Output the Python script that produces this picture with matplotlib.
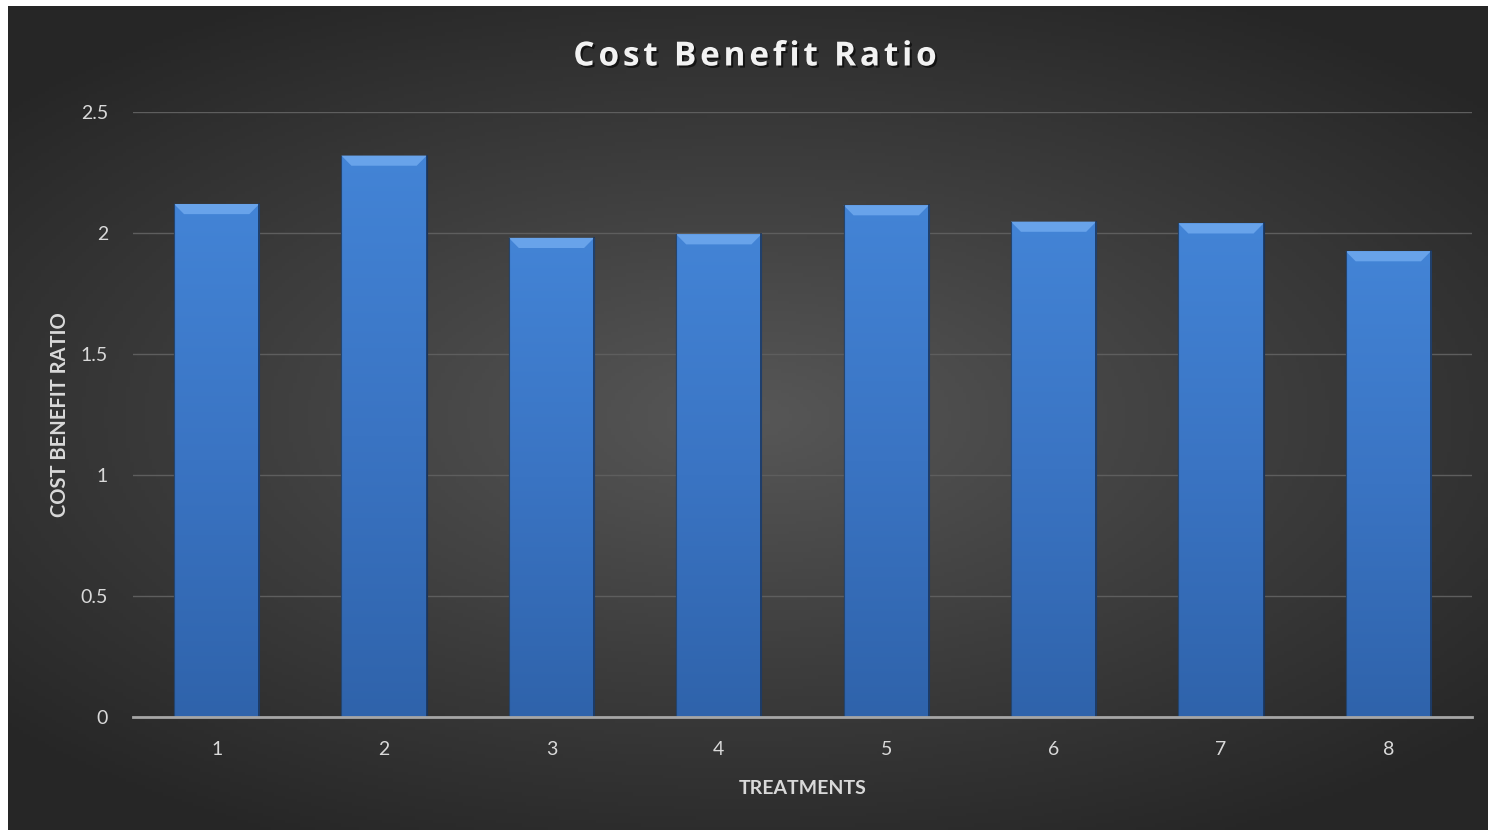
import numpy as np
import matplotlib
matplotlib.use("Agg")
import matplotlib.pyplot as plt
import matplotlib.patheffects as pe
from matplotlib.colors import LinearSegmentedColormap
from matplotlib.patches import Polygon

treatments = ["1", "2", "3", "4", "5", "6", "7", "8"]
ratios = [2.12, 2.32, 1.98, 1.995, 2.115, 2.047, 2.04, 1.925]
y_ticks = [0, 0.5, 1, 1.5, 2, 2.5]
y_tick_labels = ["0", "0.5", "1", "1.5", "2", "2.5"]
title = 'Cost Benefit Ratio'

plt.rcParams['font.family'] = ['Lato', 'DejaVu Sans']

fig = plt.figure(figsize=(14.88, 8.30), dpi=100, facecolor='white')

# dark radial gradient background (slight white margin top/left like the original)
bg = fig.add_axes([8 / 1488, 0, 1 - 8 / 1488, 1 - 6 / 830])
bg.set_axis_off()
gx, gy = np.meshgrid(np.linspace(-1, 1, 400), np.linspace(-1, 1, 240))
r = np.sqrt((gx * 1.0) ** 2 + (gy * 1.15) ** 2)
r = np.clip(r / 1.35, 0, 1)
bg_cmap = LinearSegmentedColormap.from_list('bg', ['#575757', '#3e3e3e', '#262626'])
bg.imshow(r, cmap=bg_cmap, aspect='auto', extent=[0, 1, 0, 1], vmin=0, vmax=1)

ax = fig.add_axes([133 / 1488, 1 - 717 / 830, 1339 / 1488, (717 - 112) / 830])
ax.patch.set_alpha(0)

x = np.arange(len(treatments))
width = 0.51
bars = ax.bar(x, ratios, width=width, color='#3b78c8', edgecolor='#1d3a66',
              linewidth=0.8, zorder=3)

bar_cmap = LinearSegmentedColormap.from_list('bar', ['#2f63ab', '#3a74c3', '#4384d6'])
grad = np.linspace(0, 1, 256).reshape(-1, 1)
for b in bars:
    x0, w, h = b.get_x(), b.get_width(), b.get_height()
    im = ax.imshow(grad, cmap=bar_cmap, aspect='auto', origin='lower',
                   extent=[x0, x0 + w, 0, h], zorder=3.5)
    im.set_clip_path(b)
    # top bevel
    dx, dy = 0.06, 0.042
    bevel = Polygon([[x0, h], [x0 + w, h], [x0 + w - dx, h - dy], [x0 + dx, h - dy]],
                    closed=True, facecolor='#68a3ea', edgecolor='none', zorder=4)
    ax.add_patch(bevel)
    # thin dark side edges
    ax.plot([x0 + w, x0 + w], [0, h], color='#1a3358', lw=1.2, zorder=4.5)
    ax.plot([x0, x0], [0, h], color='#24456f', lw=0.8, zorder=4.5)

ax.set_xlim(-0.5, len(treatments) - 0.5)
ax.set_ylim(0, 2.5)
ax.set_yticks(y_ticks)
ax.set_yticklabels(y_tick_labels)
ax.set_xticks(x)
ax.set_xticklabels(treatments)
ax.tick_params(axis='both', length=0, colors='#d9d9d9', labelsize=14)
ax.tick_params(axis='y', pad=18)
ax.tick_params(axis='x', pad=17)
ax.grid(axis='y', color='#5e5e5e', linewidth=1, zorder=0)
for s in ['top', 'right', 'left']:
    ax.spines[s].set_visible(False)
ax.spines['bottom'].set_color('#a6a6a6')
ax.spines['bottom'].set_linewidth(2)
ax.spines['bottom'].set_zorder(6)

ax.set_xlabel('TREATMENTS', color='#d9d9d9', fontsize=14, fontweight='bold', labelpad=16)
ax.set_ylabel('COST BENEFIT RATIO', color='#d9d9d9', fontsize=14.5, fontweight='bold', labelpad=8)

# title with extra letter spacing, drawn char by char
title_kw = dict(color='#f2f2f2', fontsize=24, fontweight='bold', family=['Open Sans', 'DejaVu Sans'],
                va='center', ha='left',
                path_effects=[pe.withSimplePatchShadow(offset=(1.5, -1.5), shadow_rgbFace='black', alpha=0.6)])
spacing = 3.8  # px between letters
renderer = fig.canvas.get_renderer()
probe = fig.text(0, 0, title, **title_kw)
full_w = probe.get_window_extent(renderer).width
probe.remove()
total_w = full_w + spacing * (len(title) - 1)
start = 755 - total_w / 2
ty = 1 - 57 / 830
for i, ch in enumerate(title):
    if i == 0:
        off = 0
    else:
        p = fig.text(0, 0, title[:i] + '|', **title_kw)
        q = fig.text(0, 0, '|', **title_kw)
        off = p.get_window_extent(renderer).width - q.get_window_extent(renderer).width
        p.remove()
        q.remove()
    fig.text((start + off + spacing * i) / 1488, ty, ch, **title_kw)

fig.savefig('out.png', dpi=100, facecolor=fig.get_facecolor())
